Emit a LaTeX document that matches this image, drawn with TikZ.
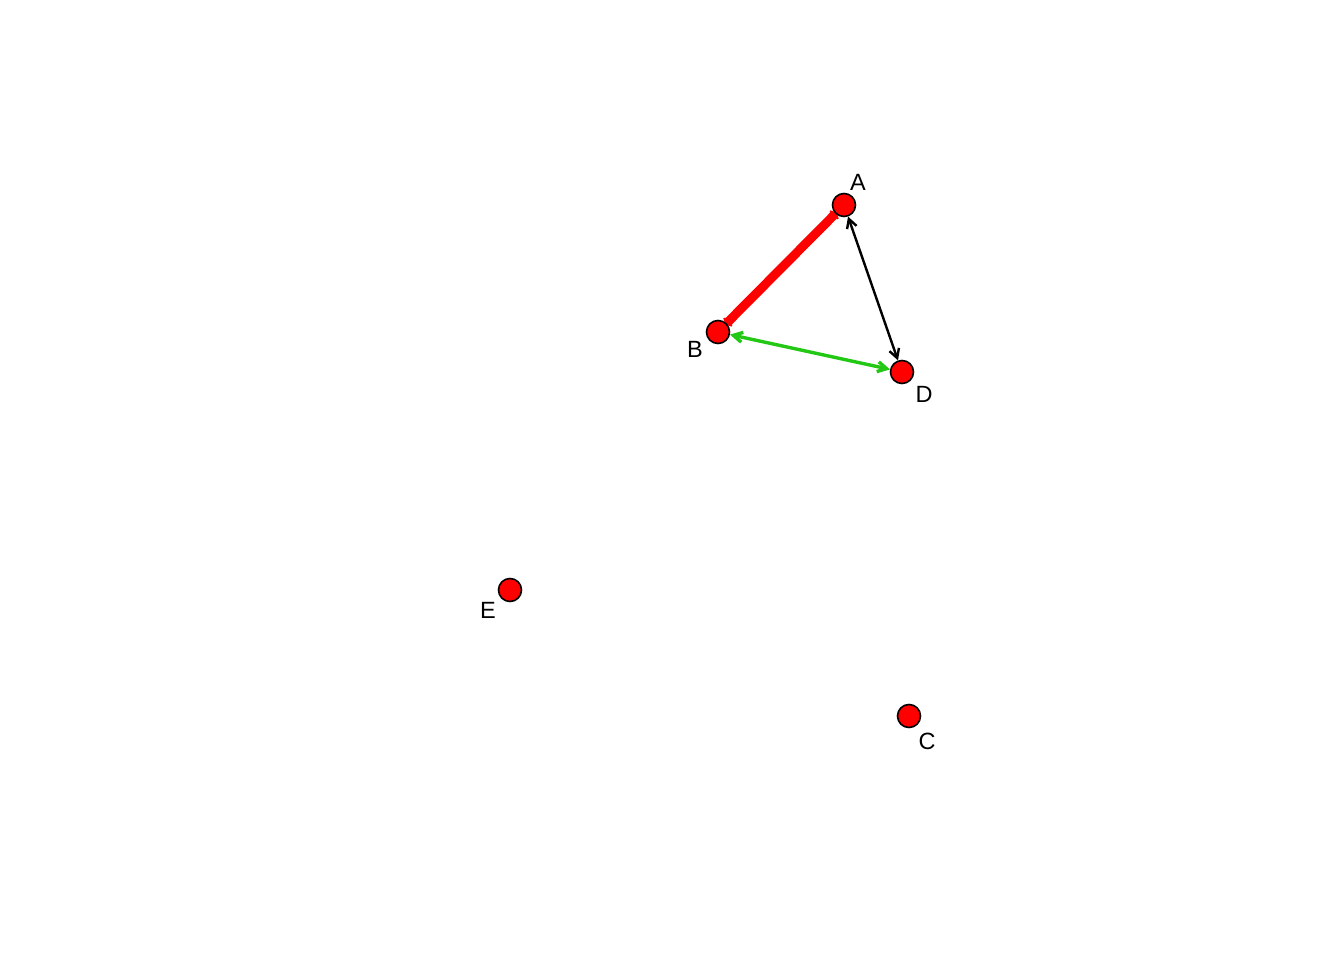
\documentclass[tikz,border=0pt]{standalone}
\usepackage{fontspec}
\setmainfont{Liberation Sans}
\usetikzlibrary{arrows.meta}
\definecolor{egreen}{RGB}{34,200,20}
\pgfdeclarelayer{edges}
\pgfsetlayers{edges,main}
\begin{document}
\begin{tikzpicture}[x=1pt,y=-1pt,
  vtx/.style={circle,draw=black,fill=red,line width=1.6pt,minimum size=23pt,inner sep=0pt},
  lbl/.style={font=\fontsize{23.5}{27}\selectfont,inner sep=0pt},
  edge/.style={{Straight Barb[length=9pt,width=10pt]}-{Straight Barb[length=9pt,width=10pt]}}]
\useasboundingbox (0,0) rectangle (1344,960);
\node[vtx] (A) at (844,205) {};
\node[vtx] (B) at (718,332) {};
\node[vtx] (D) at (902,372) {};
\node[vtx] (E) at (510,590) {};
\node[vtx] (C) at (909,716) {};
\node[lbl] (lA) at (858,182) {A};
\node[lbl] (lB) at (695,349) {B};
\node[lbl] (lD) at (924,394) {D};
\node[lbl] (lE) at (488,610) {E};
\node[lbl] (lC) at (927,741) {C};
\begin{pgfonlayer}{edges}
\draw[red,line width=9pt,shorten <=-2pt,shorten >=-2pt,{Straight Barb[length=3pt,width=11pt,line width=2pt]}-{Straight Barb[length=3pt,width=11pt,line width=2pt]}] (B) -- (A);
\draw[edge,black,line width=2.4pt] (A) -- (D);
\draw[edge,egreen,line width=3.4pt] (B) -- (D);
\end{pgfonlayer}
\end{tikzpicture}
\end{document}
